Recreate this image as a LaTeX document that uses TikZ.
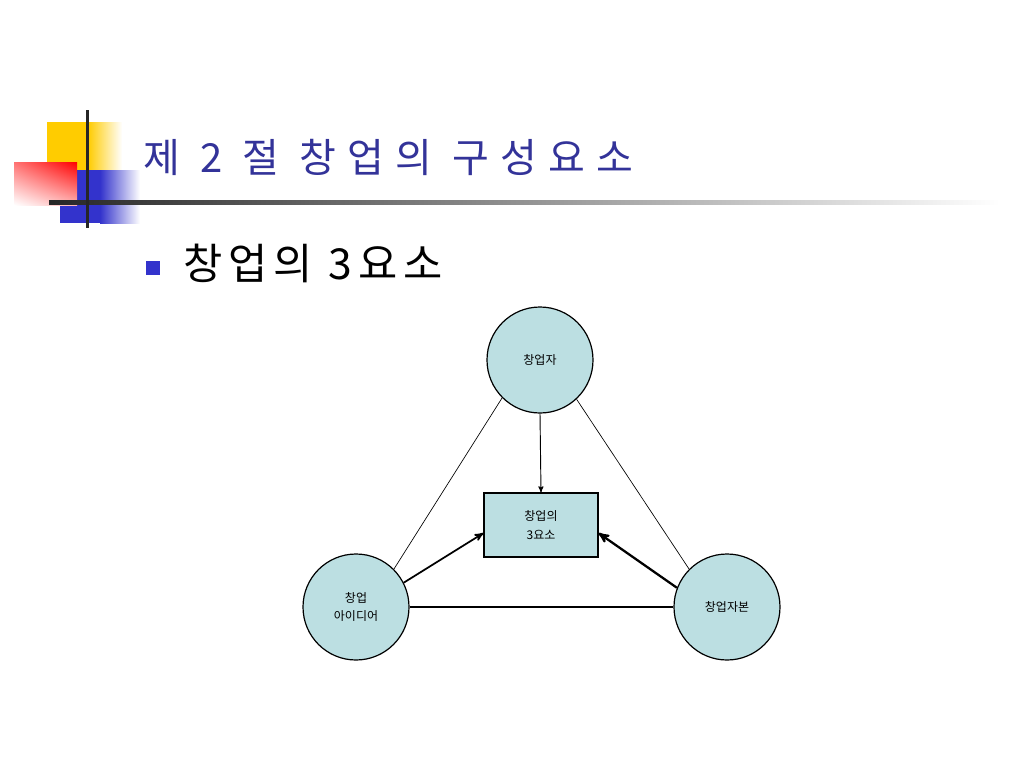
\documentclass[tikz,border=0pt]{standalone}
\usepackage{fontspec}
\setmainfont{Noto Sans CJK KR}
\newfontfamily\krhead[LetterSpace=14]{Noto Sans CJK KR}
\newfontfamily\krtitle[LetterSpace=28]{Noto Sans CJK KR}
\usetikzlibrary{calc}
\usetikzlibrary{arrows}
\usetikzlibrary{shadings}
\usetikzlibrary{backgrounds}

\definecolor{headblue}{HTML}{333399}
\definecolor{boxblue}{HTML}{3333CC}
\definecolor{cyanfill}{HTML}{BCDFE2}
\definecolor{barygold}{HTML}{FFCC00}

\begin{document}
\begin{tikzpicture}[>=stealth', x=0.75pt, y=-0.75pt, background rectangle/.style={fill=white}, show background rectangle]
\tikzset{elem/.style={circle,draw=black,line width=0.9pt,fill=cyanfill,minimum size=79.5pt,inner sep=0,font=\fontsize{9}{14}\selectfont,align=center}}
\tikzset{core/.style={rectangle,draw=black,line width=0.9pt,fill=cyanfill,minimum width=85.5pt,minimum height=48pt,inner sep=0,font=\fontsize{9}{14}\selectfont,align=center}}
\tikzset{link/.style={-,line width=0.5pt}}
\tikzset{push/.style={->,line width=1.3pt}}

\useasboundingbox (0,0) rectangle (1024,768);

% corner decoration - squares fading to white
\fill[barygold] (47,122) rectangle (88,172);
\shade[left color=barygold,right color=white] (88,122) rectangle (122,172);
\fill[boxblue] (60,170) rectangle (100,223);
\shade[left color=boxblue,right color=white] (100,170) rectangle (140,223);
\shade[upper left=red!55,upper right=red,lower left=white,lower right=red!30] (14,162) rectangle (77,205);
\shade[left color=black!85,right color=white] (49,200) rectangle (1000,204);
\fill[black!85] (86,110) rectangle (89,228);

% headings
\node[anchor=west,inner sep=0,text=headblue,font=\krtitle\fontsize{30}{32}\selectfont] (title) at (143,157) {제 2 절 창업의 구성요소};
\node[fill=boxblue,inner sep=0,minimum size=11pt] (bullet) at (153,268) {};
\node[anchor=west,inner sep=0,font=\krhead\fontsize{32}{34}\selectfont] (sub) at (183,263) {창업의 3요소};

% the three elements and the core
\node[elem] (founder) at (540,360) {창업자};
\node[elem] (idea) at (356,607) {창업\\아이디어};
\node[elem] (capital) at (727,607) {창업자본};
\node[core] (three) at (541,525) {창업의\\3요소};

\draw[link] (founder.225) -- (idea.45);
\draw[link] (founder.-47) -- (capital.135);
\draw[link,line width=1pt] (idea.east) -- (capital.west);

\draw[->,line width=0.7pt] (founder.south) -- (three.north);
\draw[push] (idea.27) -- (three.188);
\draw[push,line width=1.7pt] (capital.159) -- (three.352);

\end{tikzpicture}
\end{document}
